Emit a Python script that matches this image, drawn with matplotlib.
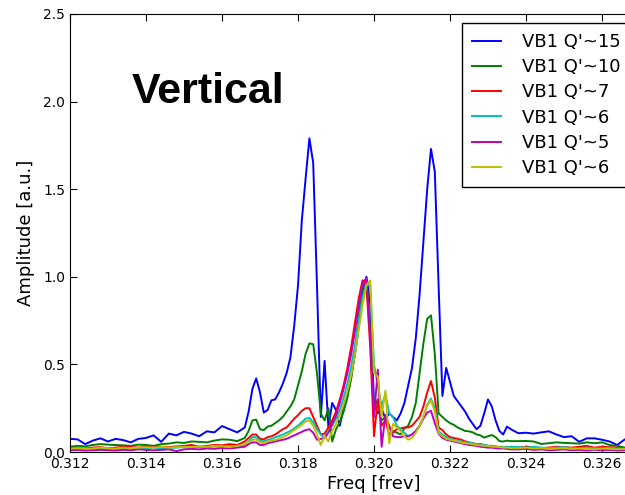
import numpy as np
import matplotlib
matplotlib.use('Agg')
import matplotlib.pyplot as plt

# frequency bins (coarser where the spectra are flat)
freq = [0.3120, 0.3122, 0.3124, 0.3126, 0.3128, 0.3130, 0.3132, 0.3134, 0.3136, 0.3138,
        0.3140, 0.3142, 0.3144, 0.3146, 0.3148, 0.3150, 0.3152, 0.3154, 0.3156, 0.3158,
        0.3160, 0.3162, 0.3164, 0.3166,
        0.3167, 0.3168, 0.3169, 0.3170, 0.3171, 0.3172, 0.3173, 0.3174, 0.3175, 0.3176,
        0.3177, 0.3178, 0.3179, 0.3180, 0.3181, 0.3182, 0.3183, 0.3184, 0.3185, 0.3186,
        0.3187, 0.3188, 0.3189, 0.3190, 0.3191, 0.3192, 0.3193, 0.3194, 0.3195, 0.3196,
        0.3197, 0.3198, 0.3199, 0.3200, 0.3201, 0.3202, 0.3203, 0.3204, 0.3205, 0.3206,
        0.3207, 0.3208, 0.3209, 0.3210, 0.3211, 0.3212, 0.3213, 0.3214, 0.3215, 0.3216,
        0.3217, 0.3218, 0.3219, 0.3220, 0.3221, 0.3222, 0.3223, 0.3224, 0.3225, 0.3226,
        0.3227, 0.3228, 0.3229, 0.3230, 0.3231, 0.3232, 0.3233, 0.3234, 0.3235, 0.3236,
        0.3238, 0.3240, 0.3242, 0.3244, 0.3246, 0.3248, 0.3250, 0.3252, 0.3254, 0.3256,
        0.3258, 0.3260, 0.3262, 0.3264, 0.3266, 0.3268]

q15 = [0.075, 0.072, 0.045, 0.065, 0.078, 0.060, 0.075, 0.068, 0.055, 0.075,
       0.080, 0.095, 0.058, 0.105, 0.095, 0.115, 0.105, 0.090, 0.118, 0.112,
       0.148, 0.130, 0.112, 0.140,
       0.230, 0.360, 0.420, 0.340, 0.225, 0.240, 0.295, 0.300, 0.340, 0.390,
       0.450, 0.540, 0.720, 0.950, 1.320, 1.560, 1.790, 1.650, 0.950, 0.200,
       0.520, 0.140, 0.280, 0.240, 0.150, 0.250, 0.330, 0.430, 0.560, 0.720,
       0.900, 1.000, 0.850, 0.280, 0.220, 0.250, 0.190, 0.220, 0.200, 0.180,
       0.220, 0.280, 0.380, 0.480, 0.650, 0.900, 1.200, 1.500, 1.730, 1.600,
       0.950, 0.320, 0.480, 0.400, 0.320, 0.290, 0.260, 0.230, 0.190, 0.160,
       0.130, 0.150, 0.220, 0.300, 0.260, 0.180, 0.120, 0.100, 0.145, 0.130,
       0.107, 0.110, 0.105, 0.112, 0.118, 0.100, 0.085, 0.090, 0.058, 0.078,
       0.078, 0.070, 0.060, 0.040, 0.072, 0.075]

q10 = [0.030, 0.035, 0.032, 0.040, 0.045, 0.042, 0.040, 0.038, 0.035, 0.042,
       0.040, 0.035, 0.045, 0.048, 0.055, 0.052, 0.060, 0.058, 0.055, 0.065,
       0.072, 0.070, 0.062, 0.080,
       0.120, 0.180, 0.185, 0.130, 0.125, 0.145, 0.150, 0.165, 0.180, 0.200,
       0.230, 0.260, 0.300, 0.380, 0.460, 0.560, 0.620, 0.615, 0.450, 0.220,
       0.180, 0.250, 0.060, 0.130, 0.170, 0.230, 0.310, 0.420, 0.580, 0.780,
       0.950, 0.990, 0.700, 0.250, 0.300, 0.180, 0.200, 0.140, 0.120, 0.110,
       0.100, 0.135, 0.150, 0.200, 0.280, 0.450, 0.620, 0.760, 0.780, 0.560,
       0.220, 0.200, 0.180, 0.165, 0.155, 0.140, 0.130, 0.120, 0.118, 0.112,
       0.100, 0.095, 0.082, 0.090, 0.097, 0.085, 0.062, 0.060, 0.065, 0.062,
       0.062, 0.063, 0.060, 0.046, 0.050, 0.055, 0.052, 0.050, 0.048, 0.055,
       0.050, 0.055, 0.040, 0.035, 0.025, 0.023]

q7 = [0.025, 0.022, 0.020, 0.025, 0.028, 0.022, 0.025, 0.030, 0.028, 0.025,
      0.030, 0.035, 0.030, 0.028, 0.032, 0.035, 0.040, 0.030, 0.035, 0.040,
      0.038, 0.045, 0.040, 0.060,
      0.080, 0.100, 0.100, 0.075, 0.072, 0.085, 0.090, 0.100, 0.115, 0.130,
      0.140, 0.165, 0.190, 0.210, 0.235, 0.250, 0.250, 0.200, 0.150, 0.100,
      0.105, 0.140, 0.180, 0.230, 0.300, 0.380, 0.480, 0.600, 0.740, 0.880,
      0.980, 0.950, 0.600, 0.090, 0.300, 0.150, 0.180, 0.100, 0.110, 0.130,
      0.135, 0.140, 0.140, 0.150, 0.175, 0.200, 0.260, 0.340, 0.405, 0.310,
      0.140, 0.125, 0.100, 0.085, 0.080, 0.075, 0.070, 0.060, 0.055, 0.050,
      0.045, 0.045, 0.040, 0.035, 0.035, 0.030, 0.025, 0.028, 0.030, 0.028,
      0.025, 0.030, 0.028, 0.022, 0.025, 0.030, 0.028, 0.025, 0.030, 0.035,
      0.025, 0.030, 0.028, 0.025, 0.020, 0.022]

q6a = [0.015, 0.018, 0.015, 0.012, 0.020, 0.018, 0.015, 0.020, 0.022, 0.018,
       0.020, 0.025, 0.020, 0.022, 0.025, 0.028, 0.025, 0.030, 0.028, 0.032,
       0.030, 0.035, 0.030, 0.040,
       0.060, 0.085, 0.085, 0.065, 0.060, 0.070, 0.075, 0.085, 0.090, 0.100,
       0.110, 0.120, 0.135, 0.150, 0.170, 0.190, 0.195, 0.170, 0.130, 0.100,
       0.080, 0.120, 0.150, 0.190, 0.240, 0.310, 0.390, 0.490, 0.610, 0.750,
       0.880, 0.970, 0.950, 0.500, 0.380, 0.260, 0.330, 0.220, 0.200, 0.150,
       0.130, 0.110, 0.090, 0.100, 0.120, 0.150, 0.200, 0.270, 0.305, 0.250,
       0.120, 0.100, 0.085, 0.075, 0.070, 0.065, 0.060, 0.055, 0.052, 0.050,
       0.045, 0.040, 0.040, 0.035, 0.035, 0.032, 0.030, 0.030, 0.028, 0.030,
       0.028, 0.025, 0.030, 0.025, 0.022, 0.025, 0.028, 0.022, 0.020, 0.025,
       0.022, 0.020, 0.025, 0.020, 0.018, 0.020]

q5 = [0.010, 0.012, 0.008, 0.010, 0.012, 0.010, 0.008, 0.012, 0.010, 0.015,
      0.012, 0.010, 0.012, 0.015, 0.005, 0.015, 0.018, 0.015, 0.020, 0.018,
      0.022, 0.020, 0.025, 0.030,
      0.045, 0.055, 0.055, 0.040, 0.040, 0.050, 0.055, 0.060, 0.065, 0.070,
      0.075, 0.085, 0.095, 0.105, 0.115, 0.125, 0.130, 0.110, 0.070, 0.075,
      0.080, 0.110, 0.160, 0.210, 0.280, 0.360, 0.450, 0.560, 0.690, 0.840,
      0.970, 0.990, 0.650, 0.200, 0.470, 0.030, 0.210, 0.150, 0.090, 0.085,
      0.085, 0.090, 0.090, 0.100, 0.120, 0.150, 0.190, 0.225, 0.235, 0.165,
      0.105, 0.080, 0.070, 0.065, 0.060, 0.055, 0.050, 0.045, 0.040, 0.038,
      0.035, 0.030, 0.028, 0.025, 0.025, 0.022, 0.020, 0.020, 0.018, 0.015,
      0.015, 0.018, 0.012, 0.015, 0.010, 0.012, 0.015, 0.010, 0.012, 0.008,
      0.012, 0.010, 0.012, 0.008, 0.010, 0.012]

q6b = [0.020, 0.022, 0.018, 0.020, 0.025, 0.022, 0.020, 0.025, 0.022, 0.025,
       0.028, 0.025, 0.030, 0.025, 0.028, 0.030, 0.028, 0.032, 0.030, 0.035,
       0.032, 0.030, 0.035, 0.045,
       0.055, 0.070, 0.072, 0.055, 0.050, 0.060, 0.065, 0.070, 0.075, 0.085,
       0.095, 0.110, 0.125, 0.140, 0.155, 0.175, 0.180, 0.150, 0.100, 0.040,
       0.090, 0.060, 0.120, 0.160, 0.210, 0.270, 0.350, 0.440, 0.560, 0.700,
       0.840, 0.950, 0.980, 0.450, 0.430, 0.200, 0.350, 0.050, 0.160, 0.140,
       0.120, 0.090, 0.070, 0.080, 0.110, 0.150, 0.200, 0.265, 0.295, 0.230,
       0.110, 0.090, 0.075, 0.070, 0.065, 0.060, 0.055, 0.050, 0.048, 0.045,
       0.040, 0.038, 0.035, 0.035, 0.030, 0.030, 0.028, 0.025, 0.025, 0.022,
       0.022, 0.025, 0.020, 0.022, 0.018, 0.020, 0.022, 0.018, 0.020, 0.018,
       0.015, 0.020, 0.018, 0.015, 0.018, 0.020]

labels = ["VB1 Q'~15", "VB1 Q'~10", "VB1 Q'~7", "VB1 Q'~6", "VB1 Q'~5", "VB1 Q'~6"]
colors = ['#0000ff', '#008000', '#ff0000', '#00bfbf', '#bf00bf', '#bfbf00']

fig = plt.figure(figsize=(6.25, 4.95), dpi=100)
# axes run past the right edge of the picture (the original is cropped)
ax = fig.add_axes([70/625, 43/495, 608/625, 438/495])

for y, c, lab in zip([q15, q10, q7, q6a, q5, q6b], colors, labels):
    ax.plot(freq, y, color=c, lw=1.4, label=lab)

ax.set_xlim(0.312, 0.328)
ax.set_ylim(0, 2.5)
ax.set_xticks([0.312, 0.314, 0.316, 0.318, 0.320, 0.322, 0.324, 0.326, 0.328])
ax.set_yticks([0.0, 0.5, 1.0, 1.5, 2.0, 2.5])
ax.tick_params(direction='in', top=True, right=True, labelsize=10, length=5)
ax.set_xlabel('Freq [frev]', fontsize=13, labelpad=3)
ax.set_ylabel('Amplitude [a.u.]', fontsize=13, labelpad=6)

ax.text(132/625, 1 - 92/495, 'Vertical', transform=fig.transFigure,
        fontsize=31, fontweight='bold', family='Liberation Sans', va='center')

leg = ax.legend(loc='upper left', bbox_to_anchor=(462/625, 1 - 23/495),
                bbox_transform=fig.transFigure, borderaxespad=0,
                fontsize=13, handlelength=1.6, handletextpad=1.15,
                labelspacing=0.4, borderpad=0.55,
                fancybox=False, framealpha=1)
leg.get_frame().set_edgecolor('black')

fig.savefig('out.png', dpi=100)
